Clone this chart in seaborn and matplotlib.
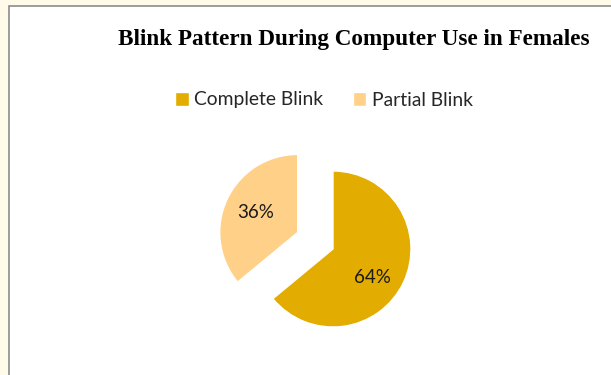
import matplotlib
matplotlib.use("Agg")
import matplotlib.pyplot as plt
from matplotlib.patches import Rectangle
import seaborn as sns

# data
labels = ["Complete Blink", "Partial Blink"]
values = [64, 36]
colors = ["#E3AC00", "#FFD088"]
explode = [0, 0.5]

sns.set_theme(style="white")
plt.rcParams["font.family"] = ["Lato", "DejaVu Sans"]

W, H = 611, 375
fig = plt.figure(figsize=(W / 100, H / 100), dpi=100, facecolor="#FFFBE8")

# white chart area with grey frame
fig.patches.append(Rectangle((8.5 / W, -0.1), 1.0, (H - 5.5) / H + 0.1,
                             transform=fig.transFigure, facecolor="white",
                             edgecolor="#8C8C8C", linewidth=1.2, zorder=-5))

# pie axes: centre at (333, 249) px, radius 78 px
cx, cy, r = 333, H - 249, 78
half = 2 * r
ax = fig.add_axes([(cx - half) / W, (cy - half) / H, 2 * half / W, 2 * half / H])
ax.set_zorder(2)
wedges, texts, autotexts = ax.pie(values, colors=sns.color_palette(colors), explode=explode,
                                  startangle=90, counterclock=False,
                                  autopct="%1.0f%%", pctdistance=0.6,
                                  textprops={"fontsize": 13.5, "color": "#1a1a1a"})
# Excel puts the big slice's label a bit lower
x0, y0 = autotexts[0].get_position()
autotexts[0].set_position((x0 - 0.04, y0 - 0.11))
ax.set_xlim(-2, 2)
ax.set_ylim(-2, 2)
ax.axis("off")

fig.text(354 / W, 1 - 40 / H, "Blink Pattern During Computer Use in Females",
         ha="center", va="center", fontsize=16.7, fontweight="bold",
         family="Liberation Serif", color="black")

fig.legend(wedges, labels, loc="center", bbox_to_anchor=(324 / W, 1 - 100 / H),
           ncol=2, frameon=False, fontsize=13.9, handlelength=0.7, handleheight=0.7,
           handletextpad=0.3, columnspacing=1.5, borderaxespad=0)

plt.savefig("out.png", dpi=100, facecolor=fig.get_facecolor())
